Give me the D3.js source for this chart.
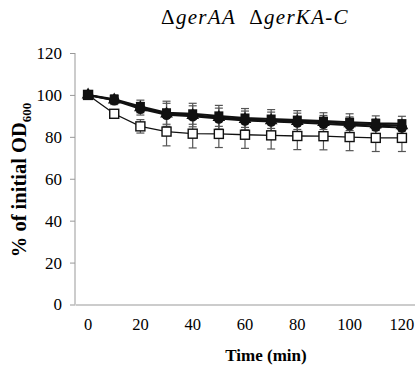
<!DOCTYPE html>
<html><head><meta charset="utf-8">
<script src="https://cdn.jsdelivr.net/npm/d3@7"></script>
<style>body{margin:0;background:#fff}svg{display:block}</style>
</head><body>
<script>
const times = [0,10,20,30,40,50,60,70,80,90,100,110,120];
const xTickLabels = [0,20,40,60,80,100,120];
const yTicks = [0,20,40,60,80,100,120];
const openSquare = [100,91,85,82.5,81.5,81.4,81,80.7,80.4,80.3,79.9,79.5,79.5];
const openSquareErr = [0,1,3.2,6.8,6.8,6.5,6.5,6.5,6.5,6.5,6.5,6.5,6.5];
const filledSquare = [100,98,94.5,91.5,91,90,89,88.5,88,87.5,87,86.5,86.3];
const filledTriangle = [100,97.6,94,91,90.3,89.3,88.4,87.8,87.4,86.9,86.3,85.8,85.4];
const filledCircle = [100,97.4,93.4,90.5,89.8,88.7,87.8,87.3,86.8,86.2,85.5,84.9,84.4];
const filledErr = [0,2,3,5.5,5,5,4.5,4.5,4.5,4,4,3.5,3.5];

const FONT="Liberation Serif";
const W=415,H=369;
const svg=d3.select("body").append("svg").attr("width",W).attr("height",H);
const x=d3.scaleBand().domain(times).range([75,415]);
const xc=t=>x(t)+x.bandwidth()/2;
const y=d3.scaleLinear().domain([0,120]).range([304.5,53]);

const yAxis=d3.axisLeft(y).tickValues(yTicks).tickSize(5).tickPadding(8);
const gy=svg.append("g").attr("transform","translate(75,0)").call(yAxis).attr("font-family",FONT).attr("font-size",17);
gy.select(".domain").attr("stroke","#999").attr("d","M0,53V304.5");
gy.selectAll(".tick line").attr("stroke","#999");
gy.selectAll("text").attr("fill","#000");

const xAxis=d3.axisBottom(x).tickValues(xTickLabels).tickSize(0).tickPadding(14);
const gx=svg.append("g").attr("transform","translate(0,304.5)").call(xAxis).attr("font-family",FONT).attr("font-size",16.5);
gx.select(".domain").attr("stroke","#999");
gx.selectAll("text").attr("fill","#000");

function errBars(vals,errs,color){
  const g=svg.append("g").attr("stroke",color).attr("stroke-width",1.2);
  times.forEach((t,i)=>{
    if(!errs[i]) return;
    const cx=xc(t), y1=y(vals[i]+errs[i]), y2=y(vals[i]-errs[i]);
    g.append("line").attr("x1",cx).attr("x2",cx).attr("y1",y1).attr("y2",y2);
    g.append("line").attr("x1",cx-4).attr("x2",cx+4).attr("y1",y1).attr("y2",y1);
    g.append("line").attr("x1",cx-4).attr("x2",cx+4).attr("y1",y2).attr("y2",y2);
  });
}
errBars(filledSquare,filledErr,"#555");
errBars(filledCircle,filledErr,"#555");
errBars(openSquare,openSquareErr,"#555");

const line=d3.line().x((d,i)=>xc(times[i])).y(d=>y(d));
function drawLine(vals,w){
  svg.append("path").datum(vals).attr("d",line).attr("fill","none").attr("stroke","#111").attr("stroke-width",w);
}
drawLine(openSquare,1.3);
drawLine(filledSquare,2);
drawLine(filledTriangle,2);
drawLine(filledCircle,2);

svg.append("g").selectAll("rect").data(openSquare).join("rect")
  .attr("x",(d,i)=>xc(times[i])-4.5).attr("y",d=>y(d)-4.5).attr("width",9).attr("height",9)
  .attr("fill","#fff").attr("stroke","#111").attr("stroke-width",1.4);
svg.append("g").selectAll("path").data(filledTriangle).join("path")
  .attr("transform",(d,i)=>`translate(${xc(times[i])},${y(d)})`)
  .attr("d",d3.symbol(d3.symbolTriangle,70)).attr("fill","#111");
svg.append("g").selectAll("circle").data(filledCircle).join("circle")
  .attr("cx",(d,i)=>xc(times[i])).attr("cy",d=>y(d)).attr("r",5.2).attr("fill","#111");
svg.append("g").selectAll("rect").data(filledSquare).join("rect")
  .attr("x",(d,i)=>xc(times[i])-4.5).attr("y",d=>y(d)-4.5).attr("width",9).attr("height",9)
  .attr("fill","#111");

const title=svg.append("text").attr("x",255).attr("y",24).attr("text-anchor","middle")
  .attr("font-family",FONT).attr("font-size",21).attr("letter-spacing",1.3).attr("fill","#000");
title.append("tspan").text("Δ");
title.append("tspan").attr("font-style","italic").text("gerAA");
title.append("tspan").text("\u00a0\u00a0Δ");
title.append("tspan").attr("font-style","italic").text("gerKA-C");

svg.append("text").attr("x",266).attr("y",361).attr("text-anchor","middle")
  .attr("font-family",FONT).attr("font-weight","bold").attr("font-size",17).text("Time (min)");
const yl=svg.append("text").attr("transform","translate(26,180) rotate(-90)").attr("text-anchor","middle")
  .attr("font-family",FONT).attr("font-weight","bold").attr("font-size",20.5);
yl.append("tspan").text("% of initial OD");
yl.append("tspan").attr("font-size",13).attr("dy",5).text("600");
</script>
</body></html>
